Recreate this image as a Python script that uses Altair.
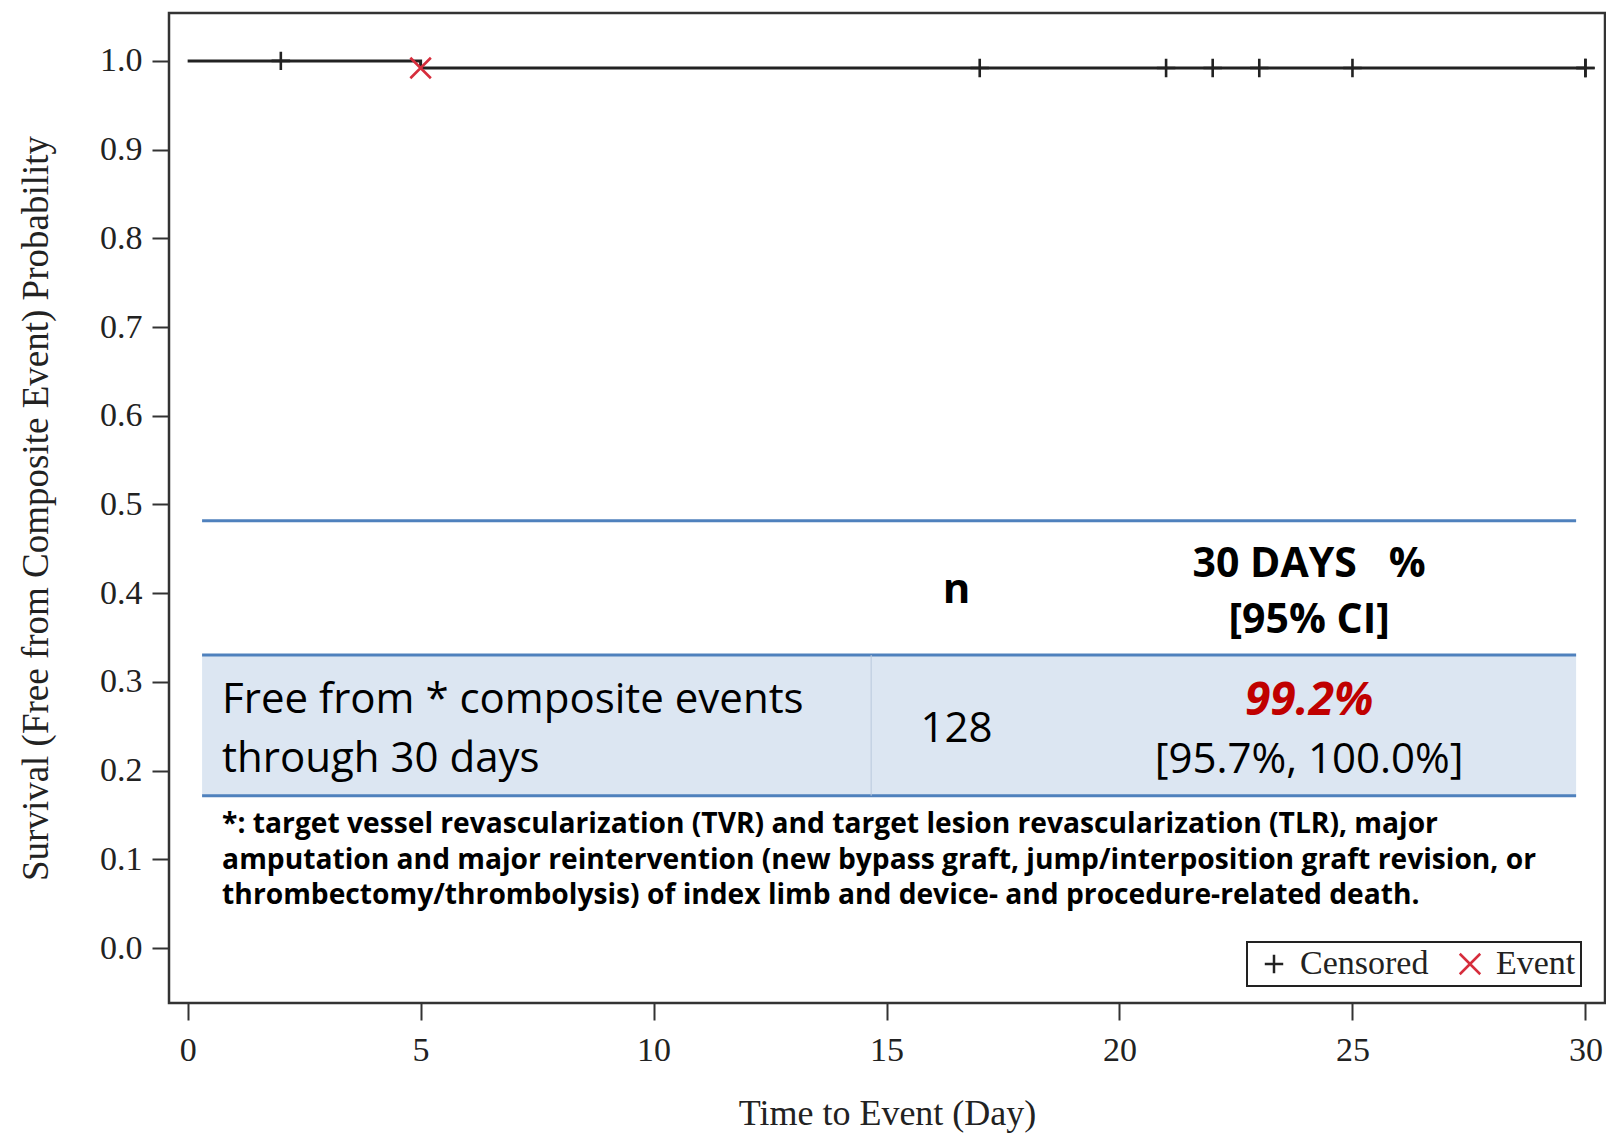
import altair as alt
import pandas as pd

# ---------------- data ----------------
km_time = [0, 5, 30]
km_surv = [1.0, 0.992, 0.992]

censor_time = [2, 17, 21, 22, 23, 25, 30, 30]
censor_surv = [1.0, 0.992, 0.992, 0.992, 0.992, 0.992, 0.992, 0.992]

event_time = [5]
event_surv = [0.992]

x_ticks = [0, 5, 10, 15, 20, 25, 30]
y_ticks = [0.0, 0.1, 0.2, 0.3, 0.4, 0.5, 0.6, 0.7, 0.8, 0.9, 1.0]

# inset table contents
hdr_n = "n"
hdr_pct = ["30 DAYS\u00a0\u00a0\u00a0%", "[95% CI]"]
row_label = ["Free from * composite events", "through 30 days"]
row_n = "128"
row_pct = "99.2%"
row_ci = "[95.7%, 100.0%]"
footnote = [
    "*: target vessel revascularization (TVR) and target lesion revascularization (TLR), major",
    "amputation and major reintervention (new bypass graft, jump/interposition graft revision, or",
    "thrombectomy/thrombolysis) of index limb and device- and procedure-related death.",
]

# inset table layout, in axis units (day, probability)
tbl_x0, tbl_x1, tbl_xsep = 0.31, 29.80, 14.67
tbl_y_top, tbl_y_mid, tbl_y_bot = 0.4817, 0.3303, 0.1717
col_n_x, col_pct_x, col_lbl_x = 16.50, 24.07, 0.74
hdr_y = [0.4182, 0.3551]
hdr_n_y = 0.3889
row_y = [0.2649, 0.1984]
row_n_y = 0.2322
row_pct_y, row_ci_y = 0.2627, 0.1973
foot_y = [0.1296, 0.0891, 0.0496]

# ---------------- encodings ----------------
SERIF = "Liberation Serif"
SANS = "Open Sans"
XDOM = [-0.4, 30.42]
YDOM = [-0.062, 1.054]

x_axis = alt.Axis(
    values=x_ticks, format="d", labelFont=SERIF, labelFontSize=34, labelColor="#222",
    tickSize=17, tickWidth=2, tickColor="#333", labelPadding=13, domain=False, grid=False,
    title="Time to Event (Day)", titleFont=SERIF, titleFontSize=36, titleFontWeight="normal",
    titleColor="#222", titleY=121, titleBaseline="alphabetic",
)
y_axis = alt.Axis(
    values=y_ticks, format=".1f", labelFont=SERIF, labelFontSize=34, labelColor="#222",
    tickSize=17, tickWidth=2, tickColor="#333", labelPadding=10, domain=False, grid=False,
    title="Survival (Free from Composite Event) Probability", titleFont=SERIF,
    titleFontSize=37, titleFontWeight="normal", titleColor="#222", titleAngle=270,
    titleX=-122, titleY=495, titleBaseline="alphabetic", titleAlign="center",
)


def X(field="x"):
    return alt.X(f"{field}:Q", scale=alt.Scale(domain=XDOM, nice=False, zero=False), axis=x_axis)


def Y(field="y"):
    return alt.Y(f"{field}:Q", scale=alt.Scale(domain=YDOM, nice=False, zero=False), axis=y_axis)


# ---------------- table inset ----------------
fill_df = pd.DataFrame({"x": [tbl_x0], "x2": [tbl_x1], "y": [tbl_y_bot], "y2": [tbl_y_mid]})
fill = alt.Chart(fill_df).mark_rect(color="#dce6f2").encode(x=X(), x2="x2:Q", y=Y(), y2="y2:Q")

hl_df = pd.DataFrame({"x": [tbl_x0] * 3, "x2": [tbl_x1] * 3, "y": [tbl_y_top, tbl_y_mid, tbl_y_bot]})
hlines = alt.Chart(hl_df).mark_rule(color="#4f81bd", strokeWidth=3).encode(x=X(), x2="x2:Q", y=Y())

sep_df = pd.DataFrame({"x": [tbl_xsep], "y": [tbl_y_bot], "y2": [tbl_y_mid]})
sep = alt.Chart(sep_df).mark_rule(color="#b9c8dc", strokeWidth=1).encode(x=X(), y=Y(), y2="y2:Q")


def text_layer(xs, ys, texts, **kw):
    df = pd.DataFrame({"x": xs, "y": ys, "t": texts})
    return alt.Chart(df).mark_text(baseline="alphabetic", **kw).encode(x=X(), y=Y(), text="t:N")


t_hdr_n = text_layer([col_n_x], [hdr_n_y], [hdr_n], font=SANS, fontSize=42, fontWeight="bold",
                     align="center", color="#000")
t_hdr_pct = text_layer([col_pct_x] * 2, hdr_y, hdr_pct, font=SANS, fontSize=41, fontWeight="bold",
                       align="center", color="#000")
t_row_lbl = text_layer([col_lbl_x] * 2, row_y, row_label, font=SANS, fontSize=42,
                       align="left", color="#000")
t_row_n = text_layer([col_n_x], [row_n_y], [row_n], font=SANS, fontSize=42,
                     align="center", color="#000")
t_row_pct = text_layer([col_pct_x], [row_pct_y], [row_pct], font=SANS, fontSize=46,
                       fontWeight="bold", fontStyle="italic", align="center", color="#c00000")
t_row_ci = text_layer([col_pct_x], [row_ci_y], [row_ci], font=SANS, fontSize=42,
                      align="center", color="#000")
t_foot = text_layer([col_lbl_x] * 3, foot_y, footnote, font=SANS, fontSize=28.2, fontWeight="bold",
                    align="left", color="#000")

# ---------------- survival curve ----------------
km_df = pd.DataFrame({"x": km_time, "y": km_surv})
km = alt.Chart(km_df).mark_line(interpolate="step-after", color="#222", strokeWidth=3).encode(
    x=X(), y=Y()
)

PLUS = "M-1,0L1,0M0,-1L0,1"
CROSS = "M-1,-1L1,1M-1,1L1,-1"
pts_df = pd.DataFrame({
    "x": censor_time + event_time,
    "y": censor_surv + event_surv,
    "type": ["Censored"] * len(censor_time) + ["Event"] * len(event_time),
})
legend = alt.Legend(
    title=None, orient="none", legendX=1078, legendY=929, direction="horizontal",
    labelFont=SERIF, labelFontSize=34, labelColor="#222", symbolSize=420, symbolStrokeWidth=2.5,
    symbolOffset=5, labelOffset=9, columnPadding=19, padding=5,
    strokeColor="#222", fillColor="#ffffff",
    labelExpr="datum.label == 'Event' ? 'Event\u00a0\u00a0' : datum.label",
)
pts = alt.Chart(pts_df).mark_point(filled=False, strokeWidth=2.6, opacity=1).encode(
    x=X(), y=Y(),
    shape=alt.Shape("type:N", scale=alt.Scale(domain=["Censored", "Event"], range=[PLUS, CROSS]),
                    legend=legend),
    color=alt.Color("type:N", scale=alt.Scale(domain=["Censored", "Event"], range=["#222222", "#d62d3c"]),
                    legend=legend),
    size=alt.Size("type:N", scale=alt.Scale(domain=["Censored", "Event"], range=[340, 420]), legend=None),
)

chart = alt.layer(
    fill, hlines, sep, t_hdr_n, t_hdr_pct, t_row_lbl, t_row_n, t_row_pct, t_row_ci, t_foot, km, pts
).properties(
    width=1436, height=990,
    padding={"left": 161, "top": 5, "right": 1, "bottom": 134},
    autosize=alt.AutoSizeParams(type="none"),
    background="white",
).configure_view(stroke="#333", strokeWidth=2.5).configure_legend(strokeWidth=2)

chart.save("out.html", embed_options={"renderer": "svg", "actions": False})
